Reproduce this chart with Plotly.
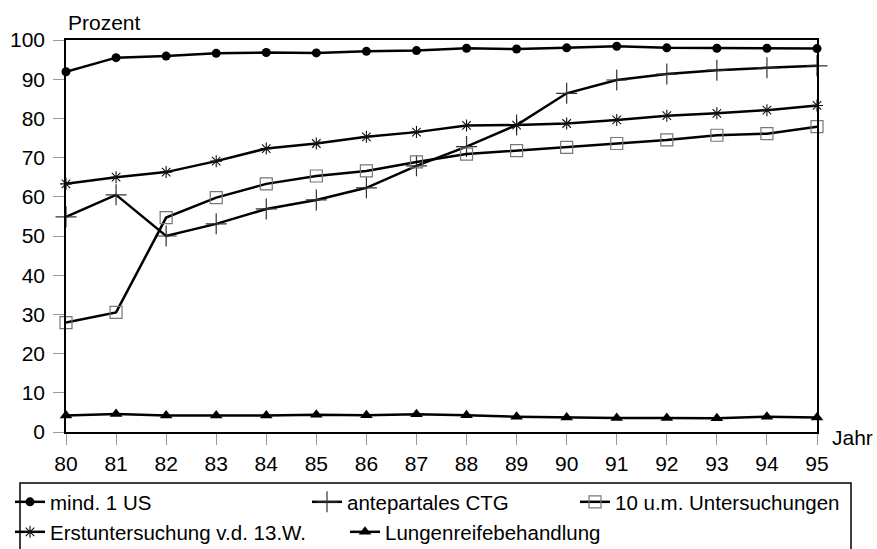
import plotly.graph_objects as go

# Jahr (80 = 1980)
jahre = list(range(80, 96))

# Anteile in Prozent je Jahr
mind_1_us = [91.9, 95.5, 95.9, 96.6, 96.8, 96.7, 97.1, 97.3, 97.9, 97.7, 98.0, 98.4, 98.0, 97.9, 97.9, 97.8]
antepartales_ctg = [54.9, 60.5, 50.0, 53.1, 56.9, 59.2, 62.3, 67.9, 72.8, 78.3, 86.4, 89.8, 91.3, 92.3, 92.9, 93.4]
zehn_untersuchungen = [27.9, 30.5, 54.7, 59.8, 63.3, 65.3, 66.6, 68.9, 70.9, 71.8, 72.6, 73.6, 74.5, 75.7, 76.1, 77.9]
erstuntersuchung = [63.3, 65.0, 66.3, 69.1, 72.3, 73.6, 75.3, 76.5, 78.2, 78.3, 78.7, 79.6, 80.7, 81.3, 82.1, 83.3]
lungenreife = [4.2, 4.6, 4.2, 4.2, 4.2, 4.4, 4.3, 4.5, 4.3, 3.9, 3.7, 3.6, 3.6, 3.5, 3.9, 3.7]

y_ticks = list(range(0, 101, 10))

FONT = "Liberation Sans, Arial, sans-serif"
FS = 21
FS_LEG = 20.5
L, R, T, B = 66, 60, 40, 117
W, H = 877, 549
PW, PH = W - L - R, H - T - B


def px_x(px):
    return (px - L) / PW


def px_y(py):
    return (H - B - py) / PH


serien = [
    ("mind. 1 US", mind_1_us, dict(symbol="circle", size=9, color="black"), "legend"),
    ("antepartales CTG", antepartales_ctg,
     dict(symbol="cross-thin-open", size=15, color="#333", line=dict(width=1.2, color="#333")), "legend2"),
    ("10 u.m. Untersuchungen", zehn_untersuchungen,
     dict(symbol="square-open", size=12, color="#777", line=dict(width=1.2, color="#777")), "legend3"),
    ("Erstuntersuchung v.d. 13.W.", erstuntersuchung,
     dict(symbol="asterisk-open", size=10, color="#111", line=dict(width=1.1, color="#111")), "legend4"),
    ("Lungenreifebehandlung", lungenreife, dict(symbol="triangle-up", size=11, color="black"), "legend5"),
]

fig = go.Figure()
for name, werte, marker, leg in serien:
    fig.add_trace(go.Scatter(
        x=jahre, y=werte, name=name, mode="lines+markers",
        line=dict(color="black", width=2.5),
        marker=marker, cliponaxis=False, legend=leg,
    ))

leg_common = dict(
    orientation="h", xanchor="left", yanchor="middle",
    bgcolor="rgba(0,0,0,0)", borderwidth=0,
    font=dict(family=FONT, size=FS_LEG, color="black"),
)
# left edge of each legend entry (symbol starts ~5px in, text ~40px in)
legend_pos = {
    "legend": (10, 502),
    "legend2": (307, 502),
    "legend3": (575, 502),
    "legend4": (10, 532),
    "legend5": (345, 532),
}
layout_legends = {k: dict(leg_common, x=px_x(x), y=px_y(y)) for k, (x, y) in legend_pos.items()}

fig.update_layout(
    width=W, height=H,
    margin=dict(l=L, r=R, t=T, b=B, autoexpand=False),
    paper_bgcolor="white", plot_bgcolor="white",
    font=dict(family=FONT, size=FS, color="black"),
    showlegend=True,
    **layout_legends,
    xaxis=dict(
        range=[80, 95], tickmode="array", tickvals=jahre, ticktext=[str(j) for j in jahre],
        showgrid=False, zeroline=False,
        showline=True, linecolor="black", linewidth=1.5, mirror=True,
        ticks="outside", ticklen=11, tickcolor="#999", tickwidth=1,
        ticklabelstandoff=1,
        tickfont=dict(family=FONT, size=FS, color="black"),
    ),
    yaxis=dict(
        range=[0, 100], tickmode="array", tickvals=y_ticks,
        showgrid=False, zeroline=False,
        showline=True, linecolor="black", linewidth=1.5, mirror=True,
        ticks="outside", ticklen=11, tickcolor="#999", tickwidth=1,
        ticklabelstandoff=4,
        tickfont=dict(family=FONT, size=FS, color="black"),
    ),
    annotations=[
        dict(text="Prozent", xref="paper", yref="paper", x=px_x(66), y=px_y(22),
             xanchor="left", yanchor="middle", showarrow=False,
             font=dict(family=FONT, size=FS, color="black")),
        dict(text="Jahr", xref="paper", yref="paper", x=px_x(830), y=px_y(437),
             xanchor="left", yanchor="middle", showarrow=False,
             font=dict(family=FONT, size=FS, color="black")),
    ],
    shapes=[
        dict(type="rect", xref="paper", yref="paper",
             x0=px_x(20), x1=px_x(851), y0=px_y(483), y1=px_y(600),
             line=dict(color="black", width=1.5), fillcolor="rgba(0,0,0,0)"),
    ],
)

fig.write_html("out.html")
